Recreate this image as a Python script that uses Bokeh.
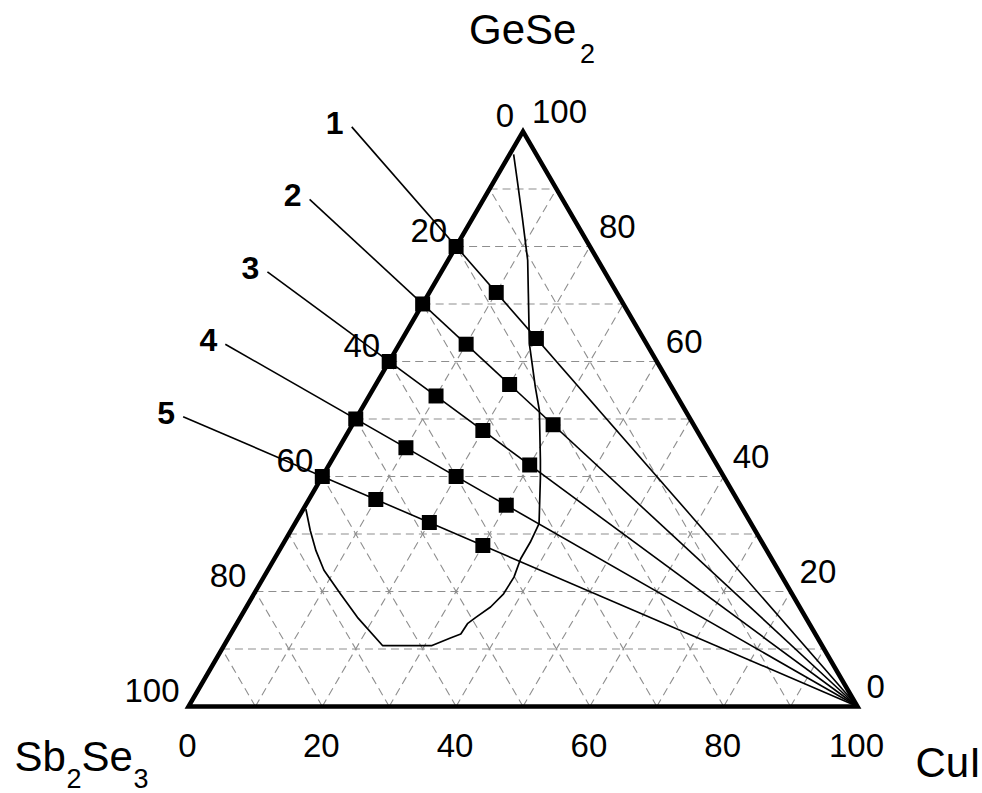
import math

from bokeh.core.properties import value
from bokeh.embed import file_html
from bokeh.models import Range1d
from bokeh.plotting import figure
from bokeh.resources import INLINE

# ---------------------------------------------------------------------------
# Data: (CuI)x(GeSe2)y(Sb2Se3)z system, compositions in mol %
# ---------------------------------------------------------------------------
# GeSe2 content of the GeSe2–Sb2Se3 parent of each section (numbered 1..5)
section_gese2 = [80, 70, 60, 50, 40]
section_names = ["1", "2", "3", "4", "5"]
# CuI added along each section towards the CuI corner
section_cui = [
    [0, 10, 20],
    [0, 10, 20, 30],
    [0, 10, 20, 30],
    [0, 10, 20, 30],
    [0, 10, 20, 30],
]

# Boundary of the glass-forming region (GeSe2 %, CuI %)
region_gese2 = [96.0, 91.0, 85.0, 77.6, 71.8, 63.1, 55.5, 51.5, 42.8, 39.8,
                35.8, 31.8, 28.6, 25.7, 22.5, 19.6, 17.3, 15.5, 14.4, 12.6,
                11.9, 10.6, 10.6, 15.5, 19.6, 23.7, 27.1, 30.6, 34.3]
region_cui = [0.6, 3.7, 7.4, 11.9, 14.9, 19.4, 24.1, 26.7, 31.2, 32.7,
              34.6, 36.5, 36.8, 36.8, 37.4, 37.3, 36.5, 35.2, 34.5, 34.4,
              33.2, 31.1, 23.7, 17.5, 12.9, 8.4, 5.5, 2.9, 0.4]

tick_values = [0, 20, 40, 60, 80, 100]
grid_values = [10, 20, 30, 40, 50, 60, 70, 80, 90]

# ---------------------------------------------------------------------------
# Page geometry
# ---------------------------------------------------------------------------
W, H = 982, 793
ORIGIN_X, ORIGIN_Y = 188.0, 706.0      # pixel of the Sb2Se3 corner
SX, SY = 6.69, 6.64                    # pixels per percent unit
R3 = math.sqrt(3.0) / 2.0

FONT = value("Liberation Sans")
BLACK = "#000000"


def tern(gese2, cui):
    """Ternary composition -> cartesian (x, y) in percent units."""
    return cui + gese2 / 2.0, gese2 * R3


def shift(xy, dx_px, dy_px):
    """Move a data point by a screen offset (dy positive = down)."""
    return xy[0] + dx_px / SX, xy[1] - dy_px / SY


p = figure(
    width=W, height=H,
    x_range=Range1d(-ORIGIN_X / SX, (W - ORIGIN_X) / SX),
    y_range=Range1d(-(H - ORIGIN_Y) / SY, ORIGIN_Y / SY),
    x_axis_type=None, y_axis_type=None,
    output_backend="svg", toolbar_location=None,
    min_border=0,
)
p.grid.visible = False
p.outline_line_color = None
p.background_fill_color = "white"
p.border_fill_color = "white"

# --- dashed composition grid every 10 % ------------------------------------
gx, gy = [], []
for k in grid_values:
    # constant GeSe2
    a, b = tern(k, 0), tern(k, 100 - k)
    gx.append([a[0], b[0]]); gy.append([a[1], b[1]])
    # constant CuI
    a, b = tern(0, k), tern(100 - k, k)
    gx.append([a[0], b[0]]); gy.append([a[1], b[1]])
    # constant Sb2Se3
    a, b = tern(0, 100 - k), tern(100 - k, 0)
    gx.append([a[0], b[0]]); gy.append([a[1], b[1]])
p.multi_line(gx, gy, line_color="#8e8e8e", line_width=1.1, line_dash="8 5")

# --- glass-forming region ---------------------------------------------------
rx, ry = zip(*[tern(g, c) for g, c in zip(region_gese2, region_cui)])
p.line(list(rx), list(ry), line_color=BLACK, line_width=1.7)

# --- sections from the CuI corner, with leaders to their numbers -----------
LEAD = -26.0   # leader extends past the GeSe2–Sb2Se3 edge
tx, ty, px_, py_ = [], [], [], []
num_x, num_y = [], []
for g0, cuis in zip(section_gese2, section_cui):
    start = tern(g0 * (1 - LEAD / 100.0), LEAD)
    end = tern(0, 100)
    tx.append([start[0], end[0]]); ty.append([start[1], end[1]])
    lab = shift(start, -17, -4)
    num_x.append(lab[0]); num_y.append(lab[1])
    for c in cuis:
        pt = tern(g0 * (1 - c / 100.0), c)
        px_.append(pt[0]); py_.append(pt[1])
p.multi_line(tx, ty, line_color=BLACK, line_width=1.6)

# --- triangle frame ---------------------------------------------------------
corners = [tern(0, 0), tern(0, 100), tern(100, 0), tern(0, 0), tern(0, 100)]
p.line([c[0] for c in corners], [c[1] for c in corners],
       line_color=BLACK, line_width=4.5, line_join="miter")

# --- composition points -----------------------------------------------------
p.scatter(px_, py_, marker="square", size=15, fill_color=BLACK,
          line_color=BLACK, line_width=0)

# --- section numbers --------------------------------------------------------
p.text(num_x, num_y, text=section_names, text_font=FONT,
       text_font_size=value("32px"), text_font_style="bold",
       text_align="center", text_baseline="middle", text_color=BLACK)

# --- tick labels ------------------------------------------------------------
TICK_SIZE = value("33px")
# bottom edge: CuI
bx, by = zip(*[shift(tern(0, v), -1, 39) for v in tick_values])
p.text(list(bx), list(by), text=[str(v) for v in tick_values], text_font=FONT,
       text_font_size=TICK_SIZE, text_align="center", text_baseline="middle")
# left edge: Sb2Se3
lx, ly = zip(*[shift(tern(100 - v, 0), -9, -16) for v in tick_values])
p.text(list(lx), list(ly), text=[str(v) for v in tick_values], text_font=FONT,
       text_font_size=TICK_SIZE, text_align="right", text_baseline="middle")
# right edge: GeSe2
qx, qy = zip(*[shift(tern(v, 100 - v), 9, -20) for v in tick_values])
p.text(list(qx), list(qy), text=[str(v) for v in tick_values], text_font=FONT,
       text_font_size=TICK_SIZE, text_align="left", text_baseline="middle")

# --- component names with subscripts ---------------------------------------
MAIN, SUB = value("42px"), value("27px")


def formula(anchor, parts):
    """parts: list of (text, dx_px, dy_px, is_sub) relative to anchor."""
    for txt, dx, dy, sub in parts:
        x, y = shift(anchor, dx, dy)
        p.text([x], [y], text=[txt], text_font=FONT,
               text_font_size=SUB if sub else MAIN,
               text_align="left", text_baseline="middle", text_color=BLACK)


formula(tern(100, 0), [("GeSe", -54, -102, False), ("2", 57, -78, True)])
formula(tern(0, 0), [("Sb", -174, 50, False), ("2", -122, 72, True),
                     ("Se", -107, 50, False), ("3", -55, 72, True)])
formula(tern(0, 100), [("CuI", 58, 56, False)])

open("out.html", "w").write(file_html(p, INLINE))
